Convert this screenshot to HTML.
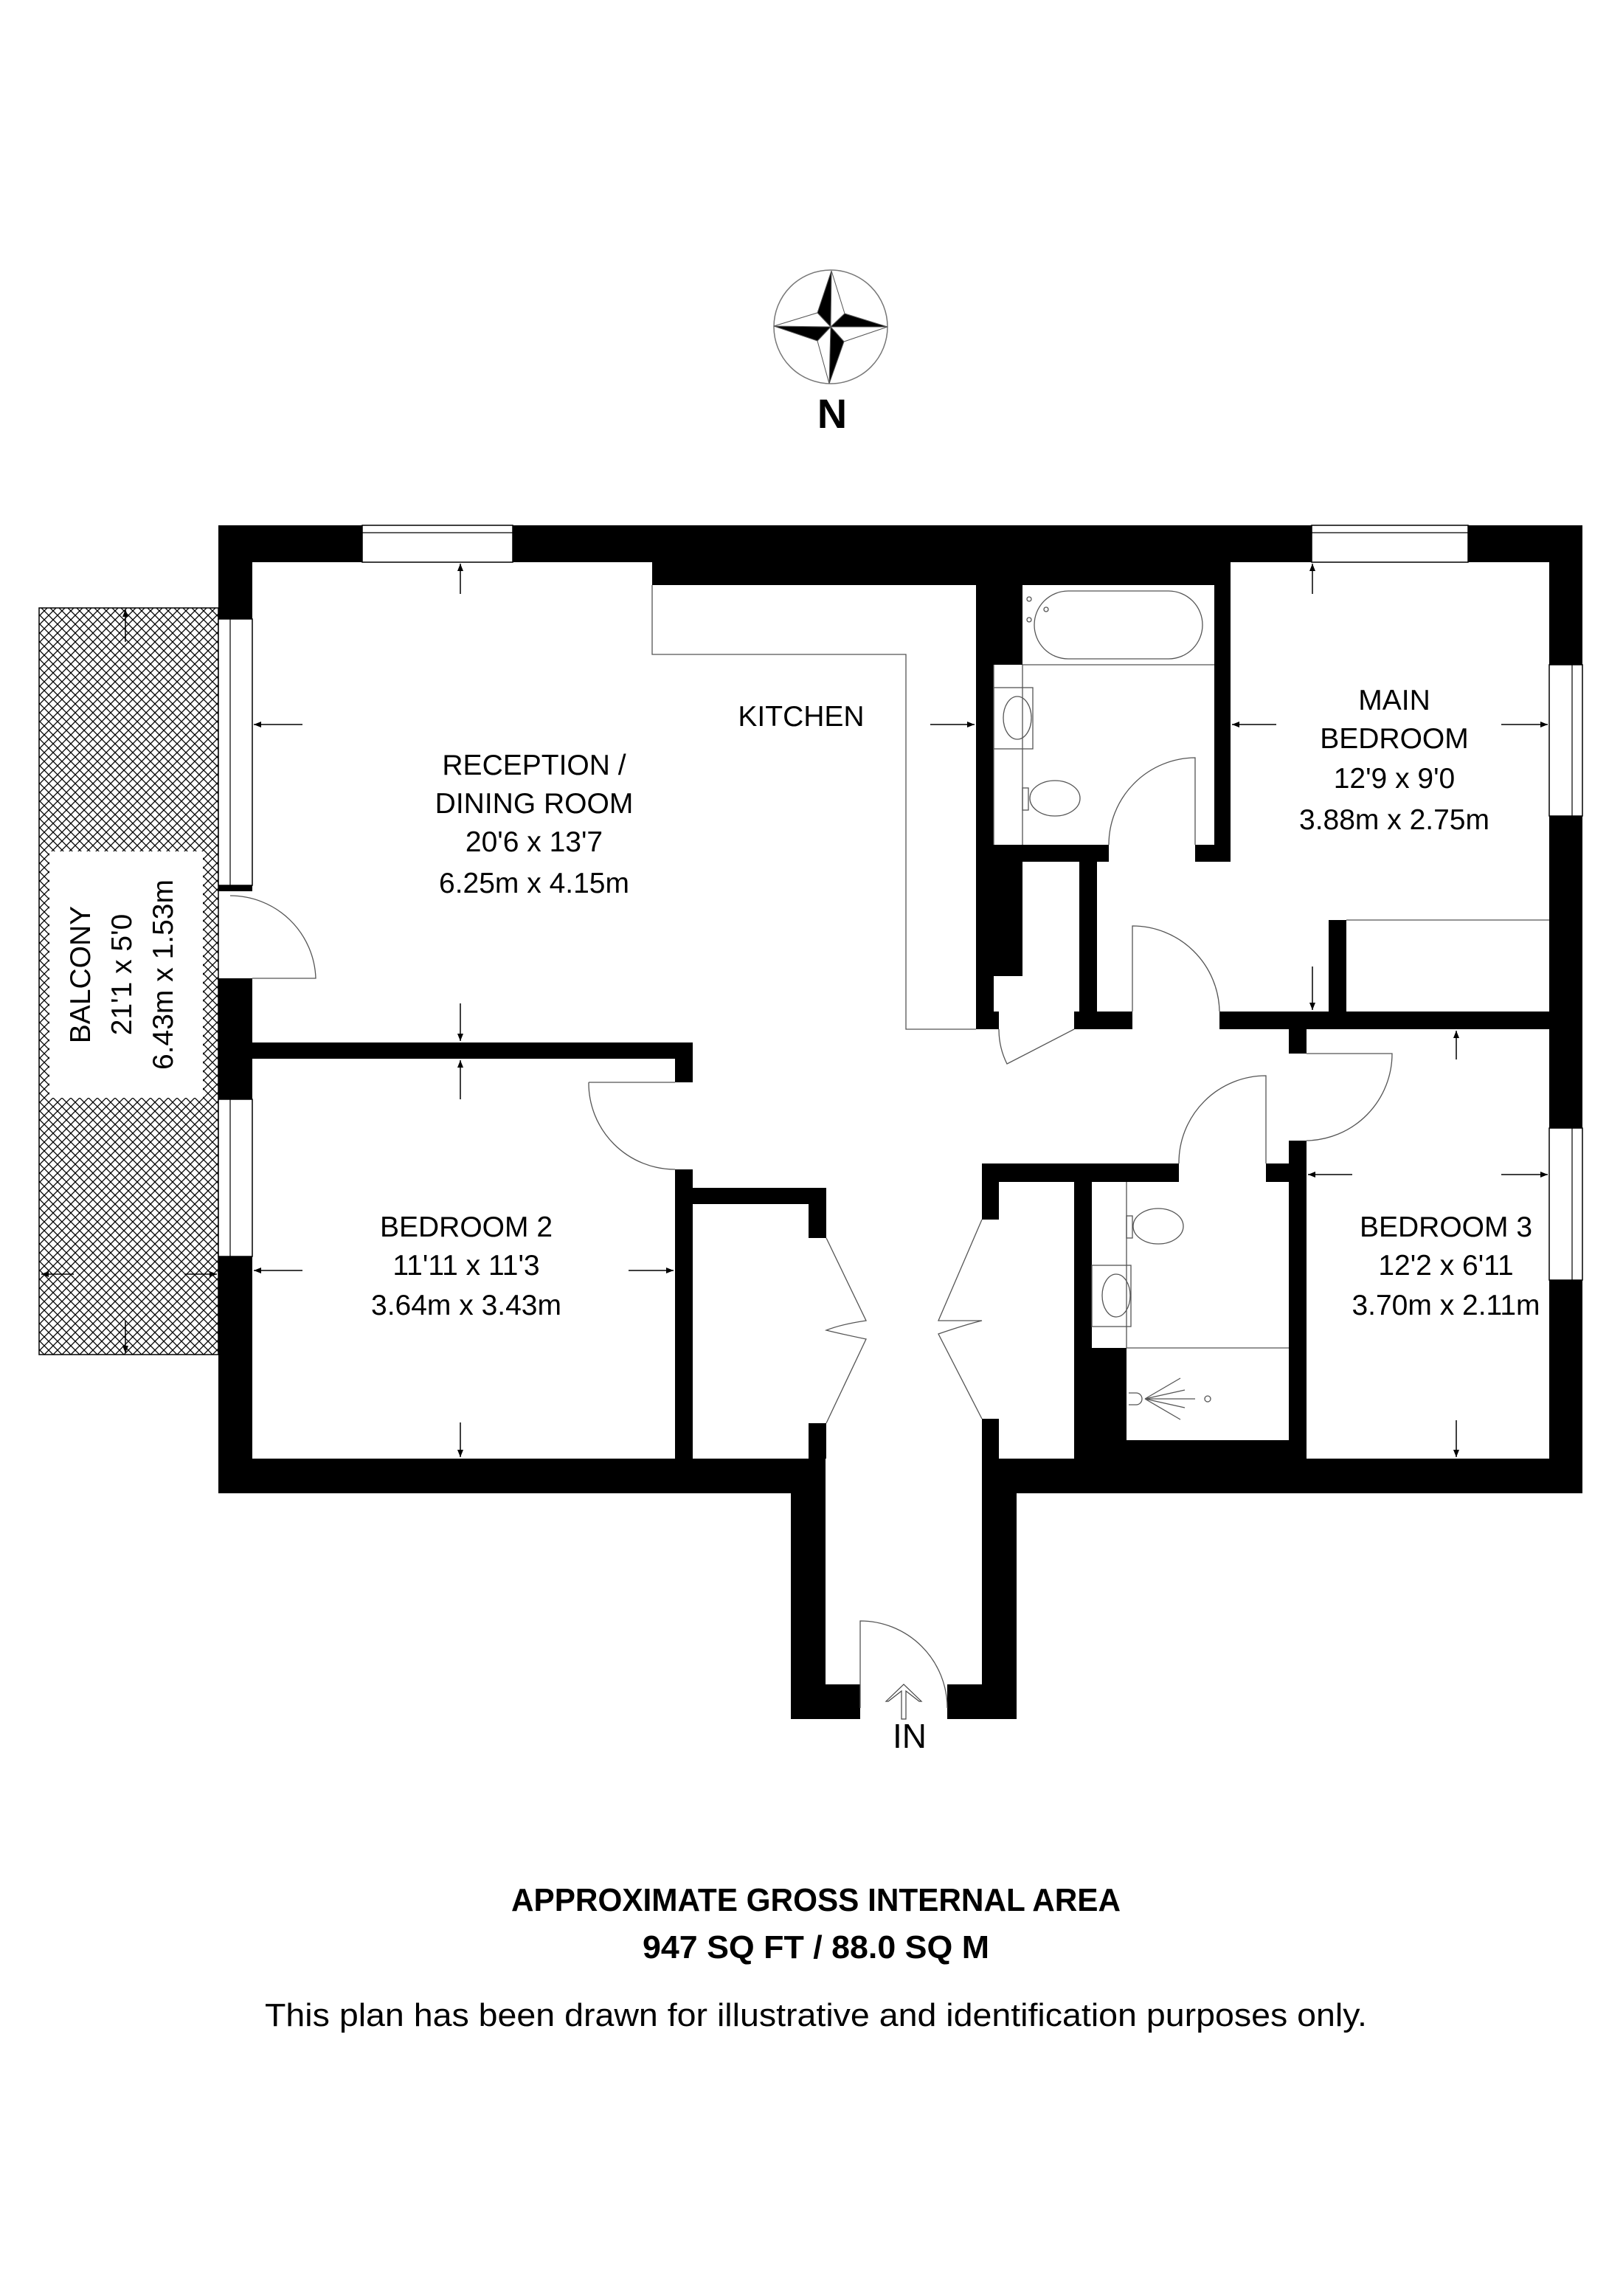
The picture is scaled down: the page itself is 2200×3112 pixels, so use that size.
<!DOCTYPE html>
<html><head><meta charset="utf-8"><style>html,body{margin:0;padding:0;background:#fff}svg{display:block}</style></head>
<body>
<svg width="2200" height="3112" viewBox="0 0 2200 3112" xmlns="http://www.w3.org/2000/svg" font-family="Liberation Sans, Arial, sans-serif">
<defs>
<pattern id="hatch" width="12" height="12" patternUnits="userSpaceOnUse">
<path d="M0,0 L12,12 M12,0 L0,12" stroke="#000" stroke-width="1.3"/>
</pattern>
<marker id="ar" markerWidth="10" markerHeight="8" refX="10" refY="4" orient="auto" markerUnits="userSpaceOnUse"><path d="M0,0 L10,4 L0,8 z" fill="#000"/></marker>
</defs>
<rect width="2200" height="3112" fill="#fff"/>

<!-- compass -->
<circle cx="1126" cy="443" r="77" fill="none" stroke="#777" stroke-width="1.5"/>
<g stroke="#555" stroke-width="1">
<polygon points="1127,367 1108,424 1126,443" fill="#000"/>
<polygon points="1127,367 1145,425 1126,443" fill="#fff"/>
<polygon points="1203,443 1145,425 1126,443" fill="#000"/>
<polygon points="1203,443 1144,463 1126,443" fill="#fff"/>
<polygon points="1124,520 1144,463 1126,443" fill="#000"/>
<polygon points="1124,520 1108,462 1126,443" fill="#fff"/>
<polygon points="1049,442 1108,462 1126,443" fill="#000"/>
<polygon points="1049,442 1108,424 1126,443" fill="#fff"/>
</g>
<text x="1128" y="580" font-size="56" font-weight="bold" text-anchor="middle">N</text>

<!-- balcony -->
<rect x="53" y="824" width="243" height="1012" fill="url(#hatch)" stroke="#000" stroke-width="1.5"/>
<rect x="67" y="1154" width="208" height="334" fill="#fff"/>
<g font-size="39" text-anchor="middle">
<g transform="translate(122,1321) rotate(-90)"><text y="0">BALCONY</text></g>
<g transform="translate(178,1321) rotate(-90)"><text y="0">21'1 x 5'0</text></g>
<g transform="translate(234,1321) rotate(-90)"><text y="0">6.43m x 1.53m</text></g>
</g>
<g stroke="#000" stroke-width="1.5">
<line x1="170" y1="870" x2="170" y2="826" marker-end="url(#ar)"/>
<line x1="170" y1="1790" x2="170" y2="1834" marker-end="url(#ar)"/>
<line x1="100" y1="1727" x2="56" y2="1727" marker-end="url(#ar)"/>
<line x1="250" y1="1727" x2="294" y2="1727" marker-end="url(#ar)"/>
</g>

<!-- walls -->
<g fill="#000">
<rect x="296" y="712" width="195" height="50"/>
<rect x="695" y="712" width="1083" height="50"/>
<rect x="1990" y="712" width="155" height="50"/>
<rect x="884" y="712" width="784" height="81"/>
<rect x="1323" y="712" width="63" height="189"/>
<rect x="296" y="712" width="46" height="127"/>
<rect x="296" y="1200" width="46" height="8"/>
<rect x="296" y="1326" width="46" height="164"/>
<rect x="296" y="1703" width="46" height="321"/>
<rect x="2100" y="712" width="45" height="189"/>
<rect x="2100" y="1106" width="45" height="423"/>
<rect x="2100" y="1735" width="45" height="289"/>
<rect x="296" y="1977" width="823" height="47"/>
<rect x="1331" y="1977" width="814" height="47"/>
<rect x="1072" y="1977" width="47" height="353"/>
<rect x="1072" y="2283" width="94" height="47"/>
<rect x="1331" y="1977" width="47" height="353"/>
<rect x="1284" y="2283" width="94" height="47"/>
<rect x="342" y="1413" width="597" height="22"/>
<rect x="915" y="1413" width="24" height="54"/>
<rect x="915" y="1585" width="24" height="392"/>
<rect x="939" y="1610" width="181" height="22"/>
<rect x="1096" y="1610" width="24" height="68"/>
<rect x="1096" y="1929" width="24" height="48"/>
<rect x="1323" y="793" width="24" height="602"/>
<rect x="1347" y="1145" width="156" height="23"/>
<rect x="1347" y="1168" width="39" height="155"/>
<rect x="1620" y="1145" width="48" height="23"/>
<rect x="1646" y="712" width="22" height="456"/>
<rect x="1323" y="1371" width="31" height="24"/>
<rect x="1463" y="1168" width="24" height="227"/>
<rect x="1456" y="1371" width="79" height="24"/>
<rect x="1653" y="1371" width="447" height="24"/>
<rect x="1801" y="1247" width="24" height="124"/>
<rect x="1747" y="1395" width="24" height="33"/>
<rect x="1747" y="1546" width="24" height="431"/>
<rect x="1331" y="1577" width="267" height="25"/>
<rect x="1716" y="1577" width="55" height="25"/>
<rect x="1331" y="1577" width="23" height="76"/>
<rect x="1331" y="1923" width="23" height="54"/>
<rect x="1456" y="1602" width="24" height="375"/>
<rect x="1456" y="1827" width="71" height="150"/>
<rect x="1456" y="1952" width="315" height="25"/>
</g>

<!-- windows -->
<g fill="#fff" stroke="#000" stroke-width="1.5">
<rect x="491" y="712" width="204" height="50"/>
<rect x="1778" y="712" width="212" height="50"/>
<rect x="296" y="839" width="46" height="361"/>
<rect x="296" y="1490" width="46" height="213"/>
<rect x="2100" y="901" width="45" height="205"/>
<rect x="2100" y="1529" width="45" height="206"/>
</g>
<g stroke="#000" stroke-width="1.2" fill="none">
<line x1="491" y1="722" x2="695" y2="722"/>
<line x1="1778" y1="722" x2="1990" y2="722"/>
<line x1="312" y1="839" x2="312" y2="1200"/>
<line x1="312" y1="1490" x2="312" y2="1703"/>
<line x1="2131" y1="901" x2="2131" y2="1106"/>
<line x1="2131" y1="1529" x2="2131" y2="1735"/>
</g>

<g stroke="#555" stroke-width="1.3" fill="none">
<polyline points="884,793 884,887 1228,887 1228,1395 1323,1395"/>
<polyline points="1825,1247 2100,1247"/>
<line x1="1386" y1="901" x2="1646" y2="901"/>
<line x1="1386" y1="901" x2="1386" y2="1145"/>
<line x1="1347" y1="901" x2="1347" y2="1145"/>
<line x1="1527" y1="1827" x2="1747" y2="1827"/>
<line x1="1527" y1="1602" x2="1527" y2="1827"/>
<rect x="1402" y="801" width="228" height="92" rx="46"/>
<circle cx="1395" cy="812" r="3"/><circle cx="1395" cy="840" r="3"/><circle cx="1418" cy="826" r="3"/>
<rect x="1347" y="932" width="53" height="83"/>
<ellipse cx="1379" cy="973" rx="19" ry="29"/>
<rect x="1480" y="1715" width="53" height="83"/>
<ellipse cx="1513" cy="1756" rx="19" ry="29"/>
<rect x="1386" y="1068" width="8" height="30"/>
<ellipse cx="1430" cy="1082" rx="34" ry="24"/>
<rect x="1527" y="1648" width="8" height="30"/>
<ellipse cx="1570" cy="1662" rx="34" ry="24"/>
<path d="M1530,1888 h10 a8,8 0 0 1 0,16 h-10"/>
<path d="M1552,1896 L1600,1868 M1552,1896 L1606,1884 M1552,1896 L1620,1896 M1552,1896 L1606,1908 M1552,1896 L1600,1924"/>
<circle cx="1637" cy="1896" r="4"/>
<path d="M312,1214 A116,116 0 0 1 428,1326 L342,1326"/>
<path d="M798,1467 L915,1467 M798,1467 A117,117 0 0 0 915,1585"/>
<path d="M1620,1145 L1620,1027 A118,118 0 0 0 1503,1145"/>
<path d="M1535,1371 L1535,1255 A118,118 0 0 1 1653,1371"/>
<path d="M1456,1395 L1365,1442 A105,105 0 0 1 1354,1395"/>
<path d="M1771,1428 L1887,1428 A118,118 0 0 1 1771,1546"/>
<path d="M1716,1577 L1716,1458 A118,118 0 0 0 1598,1577"/>
<path d="M1166,2315 L1166,2197 A118,118 0 0 1 1284,2315"/>
<path d="M1120,1678 L1174,1790 Q1140,1795 1120,1803 Q1140,1808 1174,1815 L1120,1929"/>
<path d="M1331,1653 L1272,1790 Q1310,1790 1331,1790 Q1310,1795 1272,1808 L1331,1923"/>
</g>
<path d="M1222,2330 V2292 L1204,2306 L1201,2306 L1225,2283 L1249,2306 L1246,2306 L1228,2292 V2330 Z" fill="#fff" stroke="#444" stroke-width="1.2"/>

<g stroke="#000" stroke-width="1.5">
<line x1="624" y1="805" x2="624" y2="764" marker-end="url(#ar)"/>
<line x1="410" y1="982" x2="344" y2="982" marker-end="url(#ar)"/>
<line x1="624" y1="1360" x2="624" y2="1411" marker-end="url(#ar)"/>
<line x1="624" y1="1490" x2="624" y2="1437" marker-end="url(#ar)"/>
<line x1="410" y1="1722" x2="344" y2="1722" marker-end="url(#ar)"/>
<line x1="852" y1="1722" x2="913" y2="1722" marker-end="url(#ar)"/>
<line x1="624" y1="1928" x2="624" y2="1975" marker-end="url(#ar)"/>
<line x1="1261" y1="982" x2="1321" y2="982" marker-end="url(#ar)"/>
<line x1="1779" y1="805" x2="1779" y2="764" marker-end="url(#ar)"/>
<line x1="1730" y1="982" x2="1670" y2="982" marker-end="url(#ar)"/>
<line x1="2035" y1="982" x2="2098" y2="982" marker-end="url(#ar)"/>
<line x1="1779" y1="1310" x2="1779" y2="1369" marker-end="url(#ar)"/>
<line x1="1974" y1="1436" x2="1974" y2="1397" marker-end="url(#ar)"/>
<line x1="1833" y1="1592" x2="1773" y2="1592" marker-end="url(#ar)"/>
<line x1="2035" y1="1592" x2="2098" y2="1592" marker-end="url(#ar)"/>
<line x1="1974" y1="1925" x2="1974" y2="1975" marker-end="url(#ar)"/>
</g>

<g font-size="39" text-anchor="middle" fill="#000">
<text x="724" y="1050">RECEPTION /</text>
<text x="724" y="1102">DINING ROOM</text>
<text x="724" y="1154">20'6 x 13'7</text>
<text x="724" y="1210">6.25m x 4.15m</text>
<text x="1086" y="984">KITCHEN</text>
<text x="632" y="1676">BEDROOM 2</text>
<text x="632" y="1728">11'11 x 11'3</text>
<text x="632" y="1782">3.64m x 3.43m</text>
<text x="1890" y="962">MAIN</text>
<text x="1890" y="1014">BEDROOM</text>
<text x="1890" y="1068">12'9 x 9'0</text>
<text x="1890" y="1124">3.88m x 2.75m</text>
<text x="1960" y="1676">BEDROOM 3</text>
<text x="1960" y="1728">12'2 x 6'11</text>
<text x="1960" y="1782">3.70m x 2.11m</text>
<text x="1233" y="2369" font-size="46">IN</text>
</g>

<text x="1106" y="2590" font-size="44" font-weight="bold" text-anchor="middle" textLength="826" lengthAdjust="spacingAndGlyphs">APPROXIMATE GROSS INTERNAL AREA</text>
<text x="1106" y="2654" font-size="44" font-weight="bold" text-anchor="middle" textLength="470" lengthAdjust="spacingAndGlyphs">947 SQ FT / 88.0 SQ M</text>
<text x="1106" y="2746" font-size="44" text-anchor="middle" textLength="1494" lengthAdjust="spacingAndGlyphs">This plan has been drawn for illustrative and identification purposes only.</text>
</svg>
</body></html>
